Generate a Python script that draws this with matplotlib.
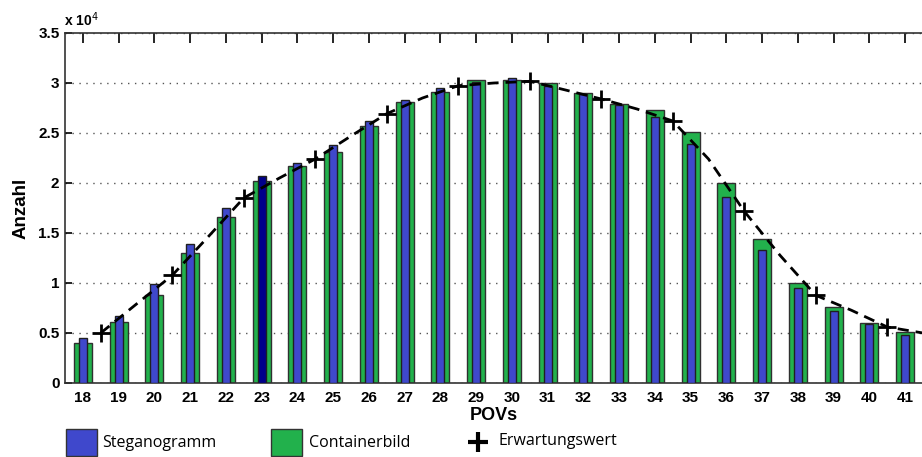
import matplotlib
matplotlib.use("Agg")
import matplotlib.pyplot as plt
from matplotlib.patches import Rectangle
from matplotlib.lines import Line2D

# data (counts, scaled by 1e4 on the axis)
povs = list(range(18, 42))
stego = [4530, 6670, 9870, 13930, 17530, 20670, 22000, 23800, 26230, 28300,
         29500, 30100, 30470, 29670, 28930, 27770, 26600, 23870, 18600, 13330,
         9530, 7170, 5930, 4770]
container = [4030, 6070, 8800, 13000, 16570, 20230, 21670, 23070, 25730, 28100,
             29070, 30330, 30270, 30000, 29000, 27870, 27270, 25100, 20000, 14370,
             10000, 7600, 6030, 5100]
exp_x = [18.5, 19.5, 20.5, 21.5, 22.5, 23.5, 24.5, 25.5, 26.5, 27.5, 28.5, 29.5,
         30.5, 31.5, 32.5, 33.5, 34.5, 35.5, 36.5, 37.5, 38.5, 39.5, 40.5, 41.5]
exp_y = [5000, 7900, 10770, 14600, 18500, 20500, 22400, 24700, 26930, 28500, 29730, 30000,
         30170, 29300, 28400, 27400, 26200, 22400, 17170, 12770, 8770, 7270, 5600, 5000]
marker_x = exp_x[::2]
marker_y = exp_y[::2]

blue = "#3f48cc"
navy = "#00008b"
green = "#22b14c"

fig = plt.figure(figsize=(9.22, 4.57), dpi=100)
ax = fig.add_axes([65 / 922, 1 - 383 / 457, 858 / 922, 350 / 457])

ax.bar(povs, container, width=0.5, color=green, edgecolor="#303030", linewidth=1, zorder=2)
bcols = [navy if p == 23 else blue for p in povs]
ax.bar(povs, stego, width=0.22, color=bcols, edgecolor="#202020", linewidth=1, zorder=3)

ax.plot(exp_x, exp_y, color="black", linestyle=(0, (4, 2.5)), linewidth=2, zorder=4)
ax.plot(marker_x, marker_y, linestyle="none", marker="+", markersize=13,
        markeredgewidth=2, color="black", zorder=5)

ax.set_xlim(17.5, 41.5)
ax.set_ylim(0, 35000)
ax.set_xticks(povs)
ax.set_yticks([0, 5000, 10000, 15000, 20000, 25000, 30000, 35000])
ax.set_yticklabels(["0", "0.5", "1", "1.5", "2", "2.5", "3", "3.5"])
ax.yaxis.grid(True, linestyle=(0, (1, 4)), color="#555555", linewidth=1, zorder=0)
ax.set_axisbelow(True)
ax.tick_params(axis="x", direction="in", top=True, length=7, width=1.2, pad=6)
ax.tick_params(axis="y", direction="in", length=5, width=1.2, pad=4)
for lab in ax.get_xticklabels() + ax.get_yticklabels():
    lab.set_fontfamily("Liberation Sans")
    lab.set_fontweight("bold")
    lab.set_fontsize(11)
for s in ax.spines.values():
    s.set_linewidth(1.2)
    s.set_color("#333333")

fig.text(64 / 922, 1 - 20 / 457, r"x 10$^{4}$", fontsize=10, fontfamily="Liberation Sans",
         fontweight="bold", va="center", ha="left")
ax.set_xlabel("POVs", fontsize=13, fontfamily="Liberation Sans", fontweight="bold", labelpad=1)
ax.set_ylabel("Anzahl", fontsize=13.5, fontfamily="Liberation Sans", fontweight="bold", labelpad=6)

# legend below the axes
fig.add_artist(Rectangle((66 / 922, 1 - 456 / 457), 31 / 922, 27 / 457,
                         transform=fig.transFigure, facecolor=blue, edgecolor="#333333", lw=1))
fig.text(102 / 922, 1 - 443 / 457, "Steganogramm", fontsize=11.5, fontfamily="Open Sans",
         va="center", ha="left")
fig.add_artist(Rectangle((271 / 922, 1 - 456 / 457), 31 / 922, 27 / 457,
                         transform=fig.transFigure, facecolor=green, edgecolor="#333333", lw=1))
fig.text(309 / 922, 1 - 443 / 457, "Containerbild", fontsize=11.5, fontfamily="Open Sans",
         va="center", ha="left")
fig.add_artist(Line2D([478 / 922], [1 - 442 / 457], transform=fig.transFigure, marker="+",
                      markersize=15, markeredgewidth=3, color="black", linestyle="none"))
fig.text(498 / 922, 1 - 441 / 457, "Erwartungswert", fontsize=11.5, fontfamily="Open Sans",
         va="center", ha="left")

fig.savefig("out.png", dpi=100)
